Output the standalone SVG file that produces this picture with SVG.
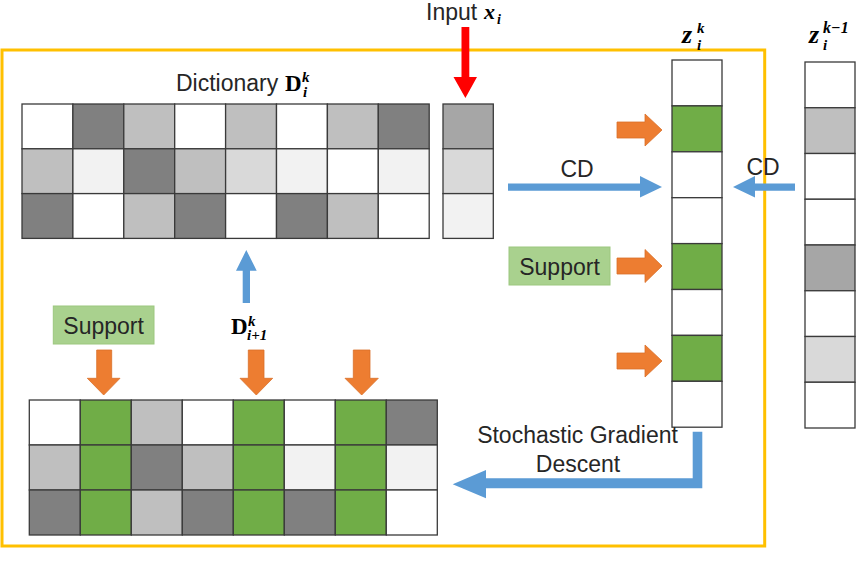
<svg xmlns="http://www.w3.org/2000/svg" width="858" height="563" viewBox="0 0 858 563">
<style>
.c{stroke:#3a3a3a;stroke-width:1.3}
.w{fill:#FFFFFF}.g1{fill:#F2F2F2}.g2{fill:#D9D9D9}.g3{fill:#BFBFBF}.g4{fill:#A6A6A6}.g5{fill:#808080}.gr{fill:#70AD47}
.t{font-family:"Liberation Sans",Arial,sans-serif;font-size:23px;fill:#262626}
.m{font-family:"Liberation Serif","Times New Roman",serif;font-weight:bold;fill:#000}
.mi{font-family:"Liberation Serif","Times New Roman",serif;font-weight:bold;font-style:italic;fill:#000}
.or{fill:#ED7D31;stroke:#D9702A;stroke-width:0.8}
.bl{fill:#5B9BD5}
.sup{fill:#A9D18E;stroke:#9CC77F;stroke-width:1}
</style>
<rect width="858" height="563" fill="#FFFFFF"/>
<g id="frame"><rect x="2" y="50" width="762.7" height="496" fill="none" stroke="#FFC000" stroke-width="3"/></g>

<g id="dictionary" class="c">
<rect class="w" x="22" y="104" width="50.9" height="44.8"/>
<rect class="g5" x="72.9" y="104" width="50.9" height="44.8"/>
<rect class="g3" x="123.8" y="104" width="50.9" height="44.8"/>
<rect class="w" x="174.7" y="104" width="50.9" height="44.8"/>
<rect class="g3" x="225.6" y="104" width="50.9" height="44.8"/>
<rect class="w" x="276.5" y="104" width="50.9" height="44.8"/>
<rect class="g3" x="327.4" y="104" width="50.9" height="44.8"/>
<rect class="g5" x="378.3" y="104" width="50.9" height="44.8"/>
<rect class="g3" x="22" y="148.8" width="50.9" height="44.8"/>
<rect class="g1" x="72.9" y="148.8" width="50.9" height="44.8"/>
<rect class="g5" x="123.8" y="148.8" width="50.9" height="44.8"/>
<rect class="g3" x="174.7" y="148.8" width="50.9" height="44.8"/>
<rect class="g2" x="225.6" y="148.8" width="50.9" height="44.8"/>
<rect class="g1" x="276.5" y="148.8" width="50.9" height="44.8"/>
<rect class="w" x="327.4" y="148.8" width="50.9" height="44.8"/>
<rect class="g1" x="378.3" y="148.8" width="50.9" height="44.8"/>
<rect class="g5" x="22" y="193.6" width="50.9" height="44.8"/>
<rect class="w" x="72.9" y="193.6" width="50.9" height="44.8"/>
<rect class="g3" x="123.8" y="193.6" width="50.9" height="44.8"/>
<rect class="g5" x="174.7" y="193.6" width="50.9" height="44.8"/>
<rect class="w" x="225.6" y="193.6" width="50.9" height="44.8"/>
<rect class="g5" x="276.5" y="193.6" width="50.9" height="44.8"/>
<rect class="g3" x="327.4" y="193.6" width="50.9" height="44.8"/>
<rect class="w" x="378.3" y="193.6" width="50.9" height="44.8"/>
</g>
<g id="dictionary-label">
<text class="t" x="176" y="91">Dictionary</text>
<text class="m" x="285" y="91" font-size="23">D</text>
<text class="mi" x="302" y="81.5" font-size="15">k</text>
<text class="mi" x="303" y="97" font-size="15">i</text>
</g>

<g id="input" class="c">
<rect class="g4" x="443" y="104" width="50.3" height="44.8"/>
<rect class="g2" x="443" y="148.8" width="50.3" height="44.8"/>
<rect class="g1" x="443" y="193.6" width="50.3" height="44.8"/>
</g>
<g id="input-label">
<text class="t" x="426" y="20" font-size="22">Input</text>
<text class="mi" x="484" y="19" font-size="22">x</text>
<text class="mi" x="497" y="23.5" font-size="14">i</text>
</g>

<g id="z" class="c">
<rect class="w" x="672" y="60" width="50" height="45.9"/>
<rect class="gr" x="672" y="105.9" width="50" height="45.9"/>
<rect class="w" x="672" y="151.8" width="50" height="45.9"/>
<rect class="w" x="672" y="197.7" width="50" height="45.9"/>
<rect class="gr" x="672" y="243.6" width="50" height="45.9"/>
<rect class="w" x="672" y="289.5" width="50" height="45.9"/>
<rect class="gr" x="672" y="335.4" width="50" height="45.9"/>
<rect class="w" x="672" y="381.3" width="50" height="45.9"/>
</g>
<g id="z-label">
<text class="mi" x="682" y="43.3" font-size="26">z</text>
<text class="mi" x="697" y="33" font-size="15">k</text>
<text class="mi" x="697" y="49.5" font-size="15">i</text>
</g>

<g id="zprev" class="c">
<rect class="w" x="805" y="62" width="50" height="45.75"/>
<rect class="g3" x="805" y="107.75" width="50" height="45.75"/>
<rect class="w" x="805" y="153.5" width="50" height="45.75"/>
<rect class="w" x="805" y="199.25" width="50" height="45.75"/>
<rect class="g4" x="805" y="245" width="50" height="45.75"/>
<rect class="w" x="805" y="290.75" width="50" height="45.75"/>
<rect class="g2" x="805" y="336.5" width="50" height="45.75"/>
<rect class="w" x="805" y="382.25" width="50" height="45.75"/>
</g>
<g id="zprev-label">
<text class="mi" x="809" y="43.3" font-size="26">z</text>
<text class="mi" x="823" y="33" font-size="16">k−1</text>
<text class="mi" x="823" y="49.5" font-size="15">i</text>
</g>

<g id="updated" class="c">
<rect class="w" x="29.3" y="400" width="51" height="45"/>
<rect class="gr" x="80.3" y="400" width="51" height="45"/>
<rect class="g3" x="131.3" y="400" width="51" height="45"/>
<rect class="w" x="182.3" y="400" width="51" height="45"/>
<rect class="gr" x="233.3" y="400" width="51" height="45"/>
<rect class="w" x="284.3" y="400" width="51" height="45"/>
<rect class="gr" x="335.3" y="400" width="51" height="45"/>
<rect class="g5" x="386.3" y="400" width="51" height="45"/>
<rect class="g3" x="29.3" y="445" width="51" height="45"/>
<rect class="gr" x="80.3" y="445" width="51" height="45"/>
<rect class="g5" x="131.3" y="445" width="51" height="45"/>
<rect class="g3" x="182.3" y="445" width="51" height="45"/>
<rect class="gr" x="233.3" y="445" width="51" height="45"/>
<rect class="g1" x="284.3" y="445" width="51" height="45"/>
<rect class="gr" x="335.3" y="445" width="51" height="45"/>
<rect class="g1" x="386.3" y="445" width="51" height="45"/>
<rect class="g5" x="29.3" y="490" width="51" height="45"/>
<rect class="gr" x="80.3" y="490" width="51" height="45"/>
<rect class="g3" x="131.3" y="490" width="51" height="45"/>
<rect class="g5" x="182.3" y="490" width="51" height="45"/>
<rect class="gr" x="233.3" y="490" width="51" height="45"/>
<rect class="g5" x="284.3" y="490" width="51" height="45"/>
<rect class="gr" x="335.3" y="490" width="51" height="45"/>
<rect class="w" x="386.3" y="490" width="51" height="45"/>
</g>
<g id="updated-label">
<text class="m" x="231" y="334" font-size="23">D</text>
<text class="mi" x="248" y="325.5" font-size="15">k</text>
<text class="mi" x="247" y="340" font-size="15">i<tspan class="m">+1</tspan></text>
</g>

<g id="support-right">
<rect class="sup" x="509" y="247" width="101" height="38"/>
<text class="t" x="559.5" y="275" text-anchor="middle">Support</text>
</g>
<g id="support-left">
<rect class="sup" x="53.3" y="306" width="100.7" height="38"/>
<text class="t" x="103.6" y="334" text-anchor="middle">Support</text>
</g>

<g id="connectors">
<path d="M461.5,27 H469.3 V77 H477 L465.4,98 L453.5,77 H461.5 Z" fill="#FF0000"/>
<path class="bl" d="M508,183.5 H640 V176 L662,187 L640,197.5 V190.7 H508 Z"/>
<path class="bl" d="M795,183.5 H755 V176 L733,187 L755,197.5 V190.7 H795 Z"/>
<path class="bl" d="M242.7,303 V270.7 H236 L246.3,250 L256.7,270.7 H250 V303 Z"/>
<path class="bl" d="M692.7,431.7 H702.3 V488.3 H486 V498.3 L452.7,484.2 L486,470 V478.3 H692.7 Z"/>
<path class="or" d="M617,122 H645 V114 L662,130 L645,146 V138 H617 Z"/>
<path class="or" d="M617,258 H645 V249.5 L662,266 L645,282.5 V274 H617 Z"/>
<path class="or" d="M617,353 H645 V345 L662,361 L645,377 V369 H617 Z"/>
<path class="or" d="M96.7,350 H111.7 V378.3 H120 L103.7,395 L87.3,378.3 H96.7 Z"/>
<path class="or" d="M248.3,350 H264 V378.3 H272.7 L256.3,395 L240,378.3 H248.3 Z"/>
<path class="or" d="M353.3,350 H370 V378.3 H378.3 L361.7,395 L345,378.3 H353.3 Z"/>
<text class="t" x="577" y="177" text-anchor="middle">CD</text>
<text class="t" x="763" y="175" text-anchor="middle">CD</text>
<text class="t" x="577.5" y="443.3" text-anchor="middle">Stochastic Gradient</text>
<text class="t" x="578" y="471.7" text-anchor="middle">Descent</text>
</g>
</svg>
